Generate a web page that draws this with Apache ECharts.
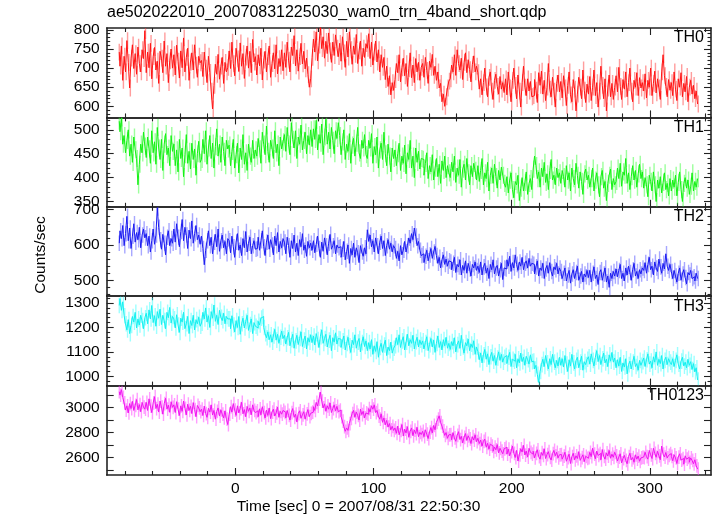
<!DOCTYPE html>
<html><head><meta charset="utf-8">
<script src="https://cdn.jsdelivr.net/npm/echarts@6/dist/echarts.min.js"></script>
<style>html,body{margin:0;padding:0;background:#fff}#c{width:717px;height:516px}</style>
</head><body><div id="c"></div><script>
// ---- data (1 s bins, bin centres from binStart) ----
const binStart = -84, binWidth = 1;
const th0 = [
742,705,758,668,731,690,772,715,648,726,761,699,738,684,755,712,690,748,725,798,
688,742,701,765,672,730,754,695,718,660,744,726,688,771,705,738,662,719,750,700,
735,682,760,718,674,745,701,779,690,728,752,668,716,740,695,761,708,676,731,714,
720,678,742,700,662,731,689,640,593,655,710,684,736,671,705,728,660,715,690,702,
745,699,768,712,680,752,724,691,766,705,738,673,729,758,700,744,688,775,716,730,
682,735,706,752,669,721,744,690,730,758,676,712,740,698,761,685,725,705,748,693,
740,702,768,721,690,755,733,785,706,748,692,730,765,711,744,698,726,683,650,672,
728,776,742,795,719,760,808,751,782,726,770,738,792,745,715,768,733,787,752,730,
765,718,782,740,702,770,729,795,748,710,758,736,788,712,745,771,705,752,728,764,
752,790,725,768,708,742,771,716,748,690,735,702,728,670,705,652,680,630,662,642,
670,712,688,735,664,701,726,680,712,652,698,740,675,708,662,725,690,715,668,702,
712,676,728,694,660,718,702,736,681,705,668,690,648,660,612,632,600,625,648,666,
672,708,690,735,681,748,712,695,726,670,715,740,688,722,696,664,710,732,690,705,
688,645,672,630,662,700,651,625,676,690,640,618,668,684,652,632,678,645,662,636,
672,630,690,648,612,668,700,655,620,682,640,598,662,705,650,628,672,640,665,625,
628,670,642,610,688,655,692,632,668,615,650,712,645,625,676,640,598,660,682,638,
665,622,680,648,602,655,690,630,612,670,645,588,632,676,650,620,695,642,610,658,
632,678,615,650,695,628,662,598,640,705,655,620,672,588,648,682,625,660,618,650,
680,638,702,652,618,670,645,690,625,662,700,640,612,668,650,688,628,675,648,662,
640,685,622,668,650,700,628,660,692,635,672,648,618,690,735,680,652,625,670,642,
662,628,690,645,615,672,650,688,625,660,638,678,612,650,668,632,655,620,640,606];
const th1 = [
518,496,525,470,488,452,478,500,445,470,432,485,458,440,385,428,470,452,495,466,
442,485,460,430,498,452,475,428,505,462,438,480,415,470,492,448,462,425,488,455,
470,425,458,412,480,440,462,402,448,490,430,455,418,472,438,460,405,450,476,432,
438,480,450,498,428,462,488,440,472,420,465,502,445,470,432,485,455,425,478,460,
468,425,455,480,420,448,472,410,462,438,490,428,452,415,470,445,432,478,440,458,
445,482,460,430,495,470,448,508,455,432,478,462,440,498,452,470,425,485,460,475,
490,455,505,470,448,515,480,462,498,440,485,470,510,458,478,495,450,488,468,500,
465,502,480,520,458,490,472,512,448,485,522,470,495,460,505,478,450,498,482,515,
488,448,475,500,438,470,455,492,430,468,482,445,472,505,452,440,478,462,490,448,
440,478,462,492,430,465,448,485,420,458,472,438,495,450,425,470,445,412,462,440,
458,425,450,472,415,445,430,468,408,452,438,478,420,445,400,462,432,455,418,440,
438,405,430,452,398,425,412,448,395,420,440,402,428,388,435,415,445,400,425,410,
400,432,412,445,390,420,405,438,380,418,428,395,440,410,385,425,402,430,415,395,
425,392,415,440,385,410,398,432,372,405,420,388,428,402,378,415,395,422,405,388,
380,402,368,395,410,375,358,392,385,405,352,378,400,372,390,412,365,388,398,375,
418,445,425,398,412,380,420,402,432,390,408,375,415,438,395,405,385,420,400,410,
388,415,402,380,425,395,410,372,420,398,385,430,405,378,412,392,365,408,418,395,
405,380,398,420,372,395,410,385,360,402,415,378,392,352,388,405,418,375,398,385,
392,420,398,430,382,412,405,440,388,410,375,402,425,395,415,380,408,428,398,412,
378,400,385,360,405,392,372,412,385,350,395,378,402,368,390,410,375,388,362,398,
372,395,380,405,362,390,412,375,350,388,400,378,395,365,382,410,372,392,380,398];
const th2 = [
605,640,618,655,598,632,681,612,648,590,625,660,608,635,615,650,592,628,645,620,
632,598,625,580,612,645,602,628,705,650,615,588,630,605,572,622,640,598,618,605,
645,608,660,622,595,638,672,612,650,628,590,642,618,668,605,632,655,615,628,602,
625,590,544,585,612,640,598,622,575,608,630,595,645,582,612,628,592,610,575,618,
612,578,625,595,565,608,632,585,600,570,618,592,638,580,605,622,575,598,612,588,
590,622,585,612,640,595,570,608,628,588,615,600,572,625,598,635,580,610,592,618,
608,575,622,598,565,612,590,628,580,605,570,615,595,632,585,600,568,610,592,605,
585,612,578,602,625,590,565,608,582,620,598,572,605,630,588,598,612,575,600,592,
595,565,588,610,558,582,600,548,590,572,605,565,592,578,550,598,580,568,592,575,
643,610,628,595,612,580,620,598,575,608,625,590,612,570,598,615,588,605,580,598,
590,562,582,555,598,572,585,610,580,598,620,605,632,615,648,625,598,610,585,570,
575,550,568,585,555,572,590,562,580,596,570,548,565,535,558,572,545,560,540,555,
552,530,548,565,522,545,538,558,515,542,528,555,520,548,532,512,545,535,552,528,
540,522,552,515,538,548,520,535,505,545,530,558,518,535,542,512,530,548,502,535,
532,558,540,568,525,550,535,572,545,528,552,540,565,530,548,555,535,562,540,548,
545,518,538,555,512,535,528,548,505,532,542,520,550,525,512,538,530,548,518,535,
525,505,520,535,498,515,528,492,518,530,505,522,540,500,512,525,495,518,510,528,
508,528,495,520,538,505,515,488,522,530,500,518,535,495,512,480,520,505,525,512,
532,510,528,545,505,520,498,535,515,540,522,500,530,548,512,525,505,530,518,535,
528,550,520,545,565,530,540,515,552,535,525,560,538,520,548,532,575,540,528,545,
525,505,528,512,495,520,535,500,518,530,508,490,522,515,528,505,510,498,520,505];
const th3 = [
1290,1318,1270,1305,1248,1215,1190,1232,1175,1208,1245,1222,1262,1198,1235,1210,1250,1228,1195,1240,
1258,1215,1272,1235,1290,1220,1248,1205,1265,1238,1275,1212,1250,1228,1195,1262,1240,1282,1218,1245,
1235,1198,1252,1210,1180,1238,1222,1262,1195,1215,1245,1175,1228,1208,1250,1190,1232,1215,1242,1205,
1218,1262,1235,1280,1222,1248,1200,1265,1238,1292,1225,1250,1212,1270,1242,1228,1258,1215,1245,1235,
1235,1195,1248,1210,1182,1228,1200,1245,1172,1215,1238,1198,1225,1250,1188,1212,1235,1175,1220,1205,
1198,1225,1210,1238,1245,1200,1175,1158,1182,1150,1170,1140,1165,1192,1148,1172,1135,1160,1185,1155,
1168,1132,1158,1180,1125,1150,1172,1115,1145,1168,1130,1155,1182,1122,1148,1165,1112,1158,1140,1170,
1138,1165,1128,1175,1150,1118,1162,1190,1135,1155,1172,1120,1148,1168,1105,1158,1140,1178,1132,1155,
1152,1118,1145,1165,1108,1135,1160,1125,1098,1148,1130,1170,1115,1140,1155,1100,1138,1162,1122,1145,
1105,1138,1112,1150,1090,1125,1102,1142,1078,1118,1135,1098,1128,1148,1085,1120,1105,1140,1095,1115,
1125,1158,1130,1170,1118,1145,1162,1108,1140,1172,1125,1150,1135,1168,1112,1142,1160,1120,1148,1130,
1145,1112,1138,1162,1105,1130,1155,1120,1148,1098,1135,1165,1118,1142,1108,1150,1125,1160,1115,1135,
1110,1142,1125,1158,1100,1130,1145,1115,1168,1120,1095,1138,1125,1152,1105,1132,1118,1145,1090,1120,
1102,1068,1095,1055,1088,1110,1070,1092,1048,1080,1098,1062,1085,1045,1075,1100,1065,1090,1058,1078,
1085,1052,1078,1098,1040,1070,1062,1090,1035,1072,1055,1095,1060,1078,1045,1082,1068,1050,1088,1060,
1062,1030,1045,1008,975,1020,1048,1070,1040,1085,1055,1030,1072,1048,1090,1058,1035,1065,1042,1078,
1045,1072,1038,1085,1050,1020,1068,1042,1090,1055,1030,1065,1078,1035,1058,1082,1025,1060,1048,1070,
1080,1050,1092,1065,1042,1078,1105,1060,1085,1048,1072,1095,1055,1070,1040,1088,1062,1098,1058,1075,
1035,1068,1042,1078,1020,1055,1038,1072,1010,1048,1062,1030,1058,1082,1040,1052,1025,1065,1045,1060,
1075,1040,1068,1092,1050,1062,1035,1080,1058,1100,1045,1070,1052,1085,1030,1065,1078,1048,1072,1058,
1048,1072,1040,1065,1088,1050,1030,1062,1078,1042,1058,1035,1070,1045,1060,1028,1052,1018,1035,985];
const th0123 = [
3125,3098,3142,3080,3035,2978,3012,2955,3030,2990,3048,2975,3015,3062,2980,3022,2965,3040,3002,2985,
3040,2975,3068,3010,2958,3035,3085,2990,3025,2962,3050,3002,2945,3030,3072,2985,3018,2960,3045,3000,
3020,2958,3045,2985,2935,3012,2968,3050,2992,2940,3025,2975,3008,2950,3038,2982,2925,3015,2995,2965,
2985,2935,3010,2950,2920,2992,2962,3020,2938,2975,2905,2968,2995,2930,2980,2945,2915,2972,2905,2862,
2945,3005,2962,3030,2978,2935,3012,2955,2990,3040,2948,2982,2925,3008,2968,2995,2940,3020,2975,2958,
2972,2925,2988,2940,3005,2958,2915,2978,2935,2995,2910,2962,2985,2930,2955,3002,2920,2968,2945,2975,
2960,2915,2975,2935,2898,2958,2990,2920,2945,2882,2950,2972,2912,2940,2965,2905,2948,2982,2925,2952,
2962,3005,2975,3040,3010,3065,3122,3050,2995,3028,2968,3012,2985,3035,2958,2990,3020,2972,3008,2965,
2978,2925,2890,2845,2808,2835,2815,2870,2912,2950,2975,2920,2962,2935,2898,2985,2942,2968,2915,2955,
2945,2990,2962,3012,2985,3020,2958,2975,2930,2905,2948,2880,2915,2860,2895,2842,2870,2820,2848,2815,
2835,2792,2850,2780,2815,2862,2770,2825,2795,2845,2760,2808,2835,2772,2818,2790,2840,2765,2800,2782,
2808,2765,2820,2785,2750,2802,2838,2795,2855,2820,2880,2905,2932,2878,2850,2812,2775,2798,2752,2780,
2782,2740,2798,2755,2728,2775,2805,2742,2768,2715,2760,2790,2735,2772,2748,2710,2765,2738,2780,2725,
2752,2710,2738,2690,2728,2745,2680,2712,2665,2705,2690,2648,2682,2660,2702,2635,2672,2650,2628,2668,
2680,2625,2665,2612,2645,2690,2632,2598,2655,2570,2620,2668,2642,2695,2618,2650,2602,2672,2640,2625,
2648,2595,2632,2660,2605,2585,2638,2615,2668,2590,2622,2645,2600,2578,2630,2655,2612,2640,2595,2620,
2622,2585,2610,2640,2568,2598,2625,2550,2605,2632,2580,2612,2590,2645,2575,2598,2620,2565,2608,2592,
2598,2640,2605,2672,2625,2588,2650,2615,2630,2580,2662,2608,2585,2635,2610,2655,2592,2625,2600,2640,
2612,2570,2602,2628,2555,2590,2615,2575,2548,2605,2632,2580,2598,2560,2620,2585,2610,2568,2595,2602,
2598,2640,2605,2585,2655,2620,2590,2672,2632,2600,2648,2612,2580,2690,2625,2602,2638,2595,2615,2630,
2608,2572,2620,2595,2550,2602,2628,2578,2590,2545,2612,2585,2600,2560,2595,2575,2548,2580,2532,2505];
const errHalf = [22, 18, 22, 32, 55];
const panelNames = ['TH0', 'TH1', 'TH2', 'TH3', 'TH0123'];
const yLabelValues = [[600,650,700,750,800],[350,400,450,500],[500,600,700],[1000,1100,1200,1300],[2600,2800,3000]];
const xLabelValues = [0, 100, 200, 300];
const titleText = 'ae502022010_20070831225030_wam0_trn_4band_short.qdp';
const xTitle = 'Time [sec] 0 = 2007/08/31 22:50:30';
const yTitle = 'Counts/sec';

// ---- layout / style ----
const series = [th0, th1, th2, th3, th0123];
const XMIN = -93.1, XMAX = 344.2;
const LEFT = 106.7, RIGHT = 711, TOP = 28, PH = 89.4;
const cfg = [
  {min:571, max:805,  major:50,  minor:10,  line:'#ff1414', bar:'rgba(255,60,60,0.5)'},
  {min:339, max:526,  major:50,  minor:10,  line:'#14f014', bar:'rgba(60,255,60,0.5)'},
  {min:455, max:708,  major:100, minor:20,  line:'#1a1af0', bar:'rgba(60,60,255,0.45)'},
  {min:962, max:1328, major:100, minor:20,  line:'#14f0f0', bar:'rgba(60,255,255,0.5)'},
  {min:2458,max:3174, major:100, minor:100, line:'#f014f0', bar:'rgba(255,60,255,0.5)'}
];
const FONT = 'Liberation Sans, Arial, Helvetica, sans-serif';
const frame = {color:'#222', width:1.6};
const tickStyle = {color:'#222', width:1.1};
const plain = v => String(v);

function ticks(min, max, step, skip) {
  const out = [];
  for (let k = Math.ceil(min / step); k * step <= max; k++) {
    const v = k * step;
    if (skip && v % skip === 0) continue;
    out.push(v);
  }
  return out;
}
const xMajor = ticks(XMIN, XMAX, 100);
const xMinor = ticks(XMIN, XMAX, 20, 100);

const grids = [], xAxes = [], yAxes = [], sers = [];
cfg.forEach((c, g) => {
  const top = TOP + g * PH;
  grids.push({left: LEFT, right: 717 - RIGHT, top: top, height: PH, containLabel: false});
  const isLast = g === cfg.length - 1;
  ['bottom', 'top'].forEach((pos, j) => {
    xAxes.push({gridIndex:g, type:'value', min:XMIN, max:XMAX, position:pos,
      axisLine:{show:true, onZero:false, lineStyle:frame},
      axisTick:{show:true, inside:true, length:7, customValues:xMajor, lineStyle:tickStyle},
      axisLabel:{show: isLast && j === 0, customValues:xLabelValues, formatter:plain, fontSize:15.5, fontFamily:FONT, color:'#000', margin:6},
      splitLine:{show:false}});
    xAxes.push({gridIndex:g, type:'value', min:XMIN, max:XMAX, position:pos,
      axisLine:{show:false, onZero:false},
      axisTick:{show:true, inside:true, length:4, customValues:xMinor, lineStyle:tickStyle},
      axisLabel:{show:false}, splitLine:{show:false}});
  });
  const yMaj = ticks(c.min, c.max, c.major);
  const yMin = c.minor === c.major ? [] : ticks(c.min, c.max, c.minor, c.major);
  ['left', 'right'].forEach((pos, j) => {
    yAxes.push({gridIndex:g, type:'value', min:c.min, max:c.max, position:pos,
      axisLine:{show:true, onZero:false, lineStyle:frame},
      axisTick:{show:true, inside:true, length:7, customValues:yMaj, lineStyle:tickStyle},
      axisLabel:{show: j === 0, customValues:yLabelValues[g], formatter:plain, fontSize:15.5, fontFamily:FONT, color:'#000', margin:7},
      splitLine:{show:false}});
    yAxes.push({gridIndex:g, type:'value', min:c.min, max:c.max, position:pos,
      axisLine:{show:false, onZero:false},
      axisTick:{show: yMin.length > 0, inside:true, length:3.5, customValues: yMin.length ? yMin : [c.min], lineStyle:tickStyle},
      axisLabel:{show:false}, splitLine:{show:false}});
  });
  const pts = series[g].map((v, i) => [binStart + i * binWidth, v]);
  const err = errHalf[g];
  sers.push({type:'custom', xAxisIndex:g*4, yAxisIndex:g*4, data:pts, clip:true, silent:true,
    renderItem: function (params, api) {
      const t = api.value(0), v = api.value(1);
      const p1 = api.coord([t, v + err]), p2 = api.coord([t, v - err]);
      const cs = params.coordSys;
      const y1 = Math.max(p1[1], cs.y), y2 = Math.min(p2[1], cs.y + cs.height);
      if (y2 <= y1) return null;
      return {type:'line', shape:{x1:p1[0], y1:y1, x2:p1[0], y2:y2}, style:{stroke:c.bar, lineWidth:1.4}};
    }});
  sers.push({type:'line', xAxisIndex:g*4, yAxisIndex:g*4, data:pts, step:'middle', showSymbol:false,
    clip:true, silent:true, lineStyle:{color:c.line, width:1}, itemStyle:{color:c.line}});
});

const graphics = [
  {type:'text', left:107, top:5, style:{text:titleText, font:'16px ' + FONT, fill:'#000'}},
  {type:'text', left:'center', x:0, top:499, style:{text:xTitle, font:'15.5px ' + FONT, fill:'#000'}},
  {type:'text', x:41, y:255, rotation:Math.PI/2, style:{text:yTitle, font:'15.5px ' + FONT, fill:'#000', align:'center', verticalAlign:'middle'}}
];
panelNames.forEach((n, g) => {
  graphics.push({type:'text', x:704, y:TOP + g * PH + 2, style:{text:n, font:'16px ' + FONT, fill:'#000', align:'right', verticalAlign:'top'}});
});

const chart = echarts.init(document.getElementById('c'), null, {renderer:'canvas'});
chart.setOption({animation:false, backgroundColor:'#fff', grid:grids, xAxis:xAxes, yAxis:yAxes, series:sers, graphic:graphics});
</script></body></html>
